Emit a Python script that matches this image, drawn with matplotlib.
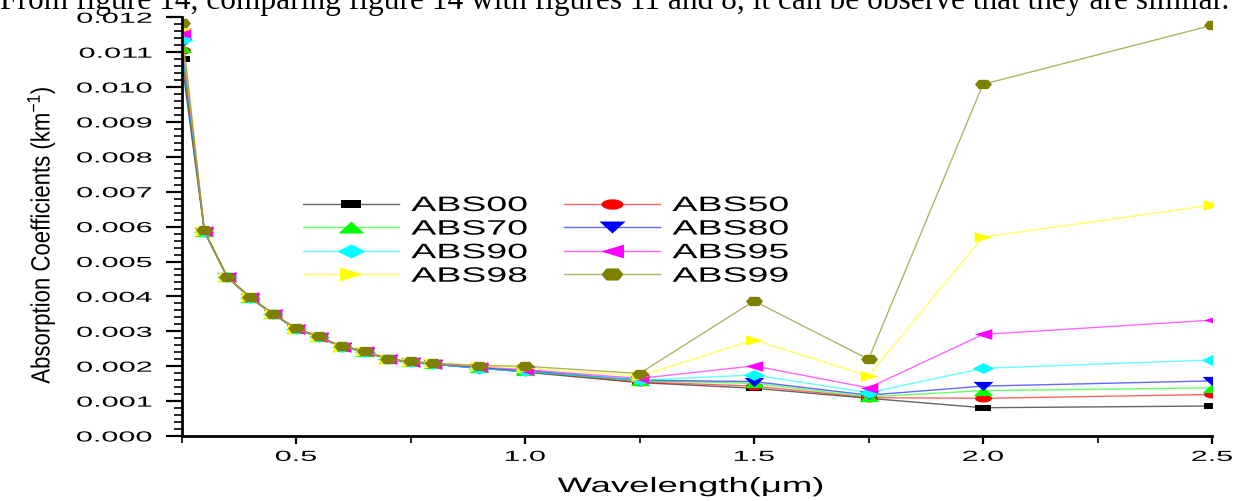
import matplotlib
matplotlib.use("Agg")
import matplotlib.pyplot as plt
import numpy as np
from matplotlib import patheffects
from matplotlib.transforms import Affine2D
from matplotlib.ticker import MultipleLocator, FormatStrFormatter

plt.rcParams['font.family'] = ['Liberation Sans', 'DejaVu Sans']
plt.rcParams['mathtext.fontset'] = 'custom'
plt.rcParams['mathtext.rm'] = 'Liberation Sans'
plt.rcParams['mathtext.it'] = 'Liberation Sans:italic'

wavelength = [0.25, 0.3, 0.35, 0.4, 0.45, 0.5, 0.55, 0.6, 0.65, 0.7, 0.75,
              0.8, 0.9, 1.0, 1.25, 1.5, 1.75, 2.0, 2.5]

abs00 = [0.01080, 0.00586, 0.00455, 0.00396, 0.00349, 0.00307, 0.00284, 0.00255, 0.00242, 0.00220,
         0.00212, 0.00206, 0.00195, 0.00183, 0.00153, 0.00137, 0.00108, 0.00081, 0.00086]
abs50 = [0.01105, 0.00586, 0.00455, 0.00396, 0.00349, 0.00307, 0.00284, 0.00255, 0.00242, 0.00220,
         0.00212, 0.00206, 0.00194, 0.00185, 0.00155, 0.00143, 0.00110, 0.00108, 0.00119]
abs70 = [0.01113, 0.00586, 0.00455, 0.00396, 0.00349, 0.00307, 0.00284, 0.00255, 0.00242, 0.00220,
         0.00212, 0.00206, 0.00195, 0.00186, 0.00158, 0.00151, 0.00112, 0.00130, 0.00138]
abs80 = [0.01126, 0.00586, 0.00455, 0.00396, 0.00349, 0.00307, 0.00284, 0.00255, 0.00242, 0.00220,
         0.00212, 0.00206, 0.00195, 0.00187, 0.00160, 0.00156, 0.00117, 0.00143, 0.00158]
abs90 = [0.01135, 0.00586, 0.00455, 0.00396, 0.00349, 0.00307, 0.00284, 0.00255, 0.00242, 0.00220,
         0.00212, 0.00206, 0.00193, 0.00185, 0.00160, 0.00175, 0.00124, 0.00194, 0.00218]
abs95 = [0.01154, 0.00588, 0.00456, 0.00397, 0.00350, 0.00308, 0.00285, 0.00256, 0.00243, 0.00221,
         0.00213, 0.00207, 0.00198, 0.00190, 0.00165, 0.00201, 0.00138, 0.00291, 0.00332]
abs98 = [0.01166, 0.00588, 0.00456, 0.00397, 0.00350, 0.00308, 0.00285, 0.00256, 0.00243, 0.00221,
         0.00213, 0.00208, 0.00201, 0.00195, 0.00172, 0.00275, 0.00172, 0.00570, 0.00662]
abs99 = [0.01183, 0.00589, 0.00457, 0.00398, 0.00351, 0.00309, 0.00286, 0.00257, 0.00244, 0.00222,
         0.00214, 0.00209, 0.00202, 0.00200, 0.00179, 0.00387, 0.00220, 0.01008, 0.01177]

names = ['ABS00', 'ABS50', 'ABS70', 'ABS80', 'ABS90', 'ABS95', 'ABS98', 'ABS99']
series = [abs00, abs50, abs70, abs80, abs90, abs95, abs98, abs99]
colors = ['#000000', '#ff0000', '#00ff00', '#0000ff', '#00ffff', '#ff00ff', '#ffff00', '#808000']

# squashed marker outlines (wider than tall)
t = np.linspace(0, 2 * np.pi, 40)
markers = [
    [(-1, -0.45), (1, -0.45), (1, 0.45), (-1, 0.45)],
    list(zip(np.cos(t), 0.47 * np.sin(t))),
    [(-1, -0.46), (1, -0.46), (0, 0.46)],
    [(-1, 0.46), (1, 0.46), (0, -0.46)],
    [(-1, 0), (0, 0.5), (1, 0), (0, -0.5)],
    [(1, 0.6), (1, -0.6), (-1, 0)],
    [(-1, 0.6), (-1, -0.6), (1, 0)],
    [(-1, 0), (-0.55, 0.55), (0.55, 0.55), (1, 0), (0.55, -0.55), (-0.55, -0.55)],
]
msizes = [11.0, 12.2, 14.4, 14.4, 15.5, 12.7, 12.7, 12.2]


class Widen(patheffects.AbstractPathEffect):
    """Stretch glyph outlines along the text direction."""

    def __init__(self, sx, anchor=0.5):
        super().__init__()
        self.sx = sx
        self.anchor = anchor

    def draw_path(self, renderer, gc, tpath, affine, rgbFace=None):
        ext = tpath.get_extents()
        cx = ext.x0 + self.anchor * (ext.x1 - ext.x0)
        tr = Affine2D().translate(-cx, 0).scale(self.sx, 1).translate(cx, 0) + affine
        renderer.draw_path(gc, tpath, tr, rgbFace)


W, H = 1246, 501
fig = plt.figure(figsize=(W / 100, H / 100), dpi=100)
ax = fig.add_axes([181.5 / W, 1 - 436 / H, 1030.5 / W, 418.7 / H])

lines = []
for name, ys, c, m, ms in zip(names, series, colors, markers, msizes):
    ln, = ax.plot(wavelength, ys, color=matplotlib.colors.to_rgba(c, 0.6), lw=1.0,
                  marker=m, markersize=ms, markerfacecolor=c, markeredgecolor=c,
                  markeredgewidth=0, label=name)
    lines.append(ln)

ax.set_xlim(0.25, 2.5)
ax.set_ylim(0, 0.012)
ax.spines['top'].set_visible(False)
ax.spines['right'].set_visible(False)
ax.spines['left'].set_linewidth(2)
ax.spines['bottom'].set_linewidth(2)

ax.xaxis.set_major_locator(MultipleLocator(0.5))
ax.xaxis.set_minor_locator(MultipleLocator(0.25))
ax.yaxis.set_major_locator(MultipleLocator(0.001))
ax.yaxis.set_minor_locator(MultipleLocator(0.0002))
ax.yaxis.set_major_formatter(FormatStrFormatter('%.3f'))
ax.xaxis.set_major_formatter(FormatStrFormatter('%.1f'))

ax.tick_params(axis='y', which='major', length=11.5, width=1.6, pad=9.5, labelsize=10.5)
ax.tick_params(axis='y', which='minor', length=6, width=1.2)
ax.tick_params(axis='x', which='major', length=6, width=1.6, pad=4, labelsize=10.5)
ax.tick_params(axis='x', which='minor', length=5, width=1.2)

for lab in ax.get_yticklabels():
    lab.set_path_effects([Widen(2.1, anchor=1.0)])
for lab in ax.get_xticklabels():
    lab.set_path_effects([Widen(2.1, anchor=0.5)])

# two columns: 00/70/90/98 then 50/80/95/99
order = [0, 2, 4, 6, 1, 3, 5, 7]
leg = fig.legend([lines[i] for i in order], [names[i] for i in order],
                 loc='upper left', bbox_to_anchor=(303 / W, 1 - 196 / H),
                 ncol=2, frameon=False, fontsize=15, handlelength=4.6,
                 handletextpad=0.6, columnspacing=4.2, labelspacing=0.22,
                 borderpad=0, borderaxespad=0, markerscale=1.3)
for txt in leg.get_texts():
    txt.set_path_effects([Widen(1.8, anchor=0.0)])

fig.text(691 / W, 1 - 492 / H, 'Wavelength(\u03bcm)', fontsize=15,
         ha='center', va='baseline', path_effects=[Widen(1.75)])
fig.text(41 / W, 1 - 235 / H, 'Absorption Coefficients (km$^{-1}$)', fontsize=19,
         rotation=90, ha='center', va='center', path_effects=[Widen(0.84)])

fig.text(0 / W, 1 - 9 / H,
         'From figure 14, comparing figure 14 with figures 11 and 8, '
         'it can be observe that they are similar.',
         family='Liberation Serif', fontsize=22.6, ha='left', va='baseline')

fig.savefig('out.png', dpi=100)
